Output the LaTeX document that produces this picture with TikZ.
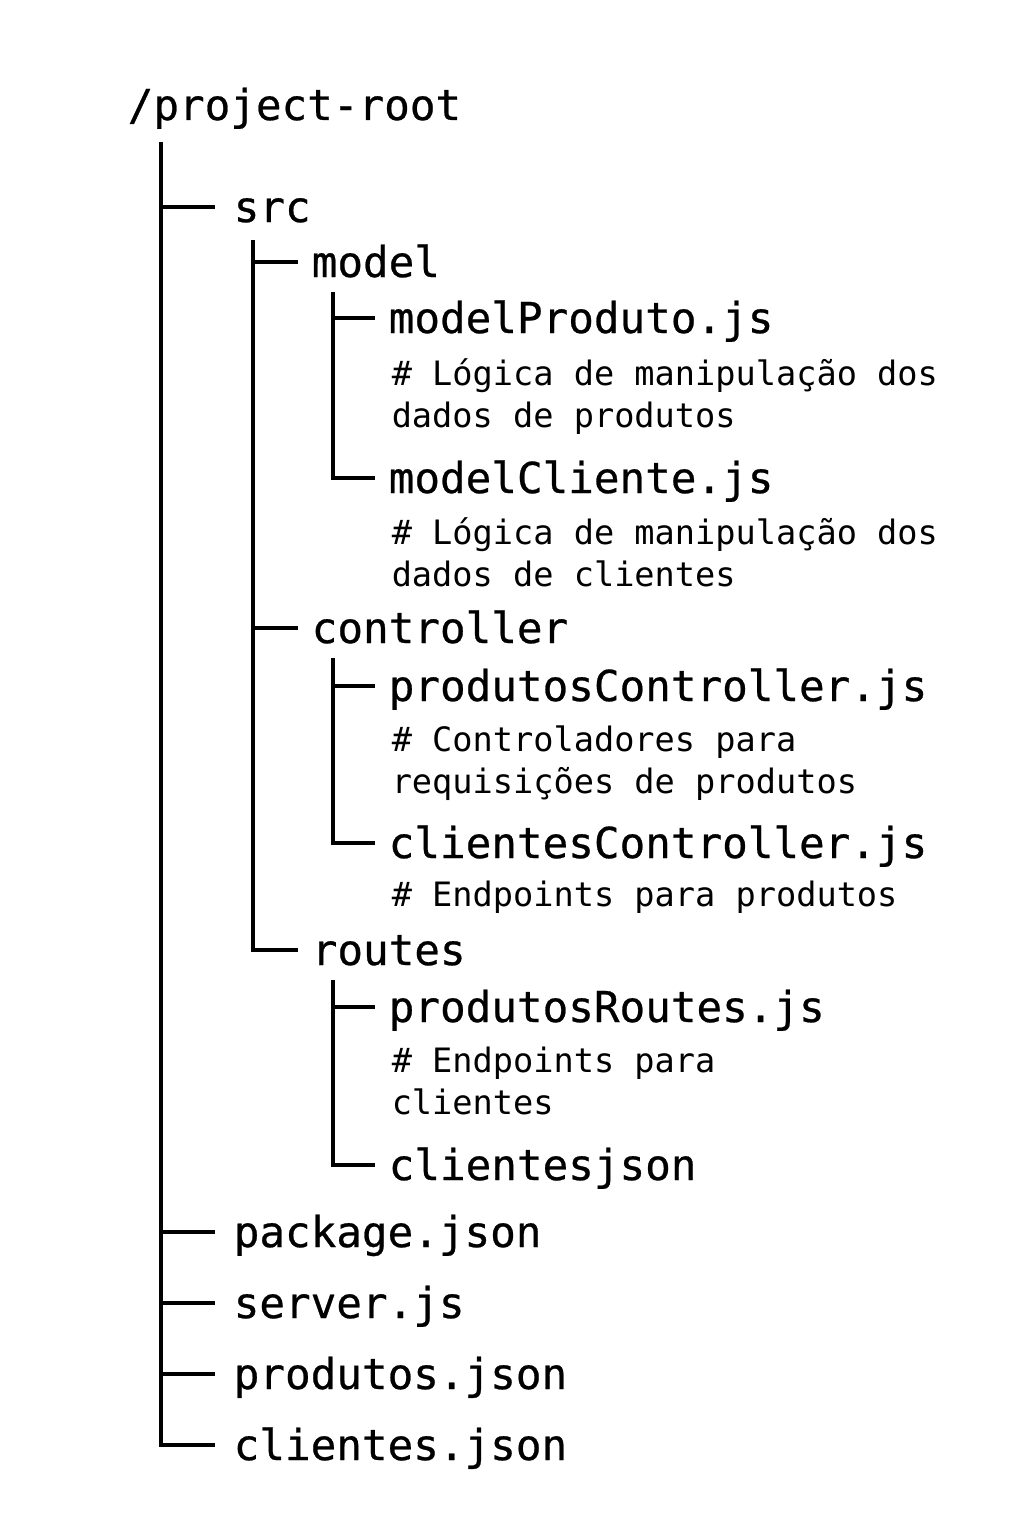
\documentclass[tikz,border=0pt]{standalone}
\usepackage{fontspec}
\setmonofont{DejaVu Sans Mono}
\newfontfamily\namefont[FakeBold=0.6]{DejaVu Sans Mono}
\usetikzlibrary{calc}

\begin{document}
\begin{tikzpicture}[x=1pt,y=-1pt,line width=3.5pt]

\tikzstyle{fname} = [inner sep=0pt, anchor=base west, text height=30pt, text depth=0pt, font=\namefont\fontsize{42.6}{50}\selectfont]
\tikzstyle{note} = [inner sep=0pt, anchor=base west, align=left, font=\ttfamily\fontsize{33.6}{42}\selectfont]

\useasboundingbox (0,0) rectangle (1024,1536);

% root and first level
\node[fname] (root) at (126,120) {/project-root};
\node[fname] (src) at (232,222) {src};
\node[fname] (pkg) at (232,1247) {package.json};
\node[fname] (srv) at (232,1318) {server.js};
\node[fname] (pj) at (232,1389) {produtos.json};
\node[fname] (cj) at (232,1460) {clientes.json};

% src folders
\node[fname] (model) at (310,277) {model};
\node[fname] (ctl) at (310,643) {controller};
\node[fname] (rt) at (310,965) {routes};

% files (multi-line notes sit on their last line)
\node[fname] (mP) at (387,333) {modelProduto.js};
\node[note] (nmP) at (390,427) {\# Lógica de manipulação dos\\dados de produtos};
\node[fname] (mC) at (387,493) {modelCliente.js};
\node[note] (nmC) at (390,586) {\# Lógica de manipulação dos\\dados de clientes};
\node[fname] (pC) at (387,701) {produtosController.js};
\node[note] (npC) at (390,793) {\# Controladores para\\requisições de produtos};
\node[fname] (cC) at (387,858) {clientesController.js};
\node[note] (ncC) at (390,906) {\# Endpoints para produtos};
\node[fname] (pR) at (387,1022) {produtosRoutes.js};
\node[note] (npR) at (390,1114) {\# Endpoints para\\clientes};
\node[fname] (cR) at (387,1180) {clientesjson};

% tree lines
\coordinate (t0) at (161,142);
\coordinate (t1) at (253,240);
\coordinate (t2) at (333,292);
\coordinate (t3) at (333,658);
\coordinate (t4) at (333,980);

\draw (t0) |- ([xshift=-17pt]cj.west);
\foreach \n in {src,pkg,srv,pj}
  \draw (t0 |- \n.west) -- ([xshift=-17pt]\n.west);

\draw (t1) |- ([xshift=-12pt]rt.west);
\foreach \n in {model,ctl}
  \draw (t1 |- \n.west) -- ([xshift=-12pt]\n.west);

\draw (t2) |- ([xshift=-12pt]mC.west);
\draw (t2 |- mP.west) -- ([xshift=-12pt]mP.west);
\draw (t3) |- ([xshift=-12pt]cC.west);
\draw (t3 |- pC.west) -- ([xshift=-12pt]pC.west);
\draw (t4) |- ([xshift=-12pt]cR.west);
\draw (t4 |- pR.west) -- ([xshift=-12pt]pR.west);

\end{tikzpicture}
\end{document}
